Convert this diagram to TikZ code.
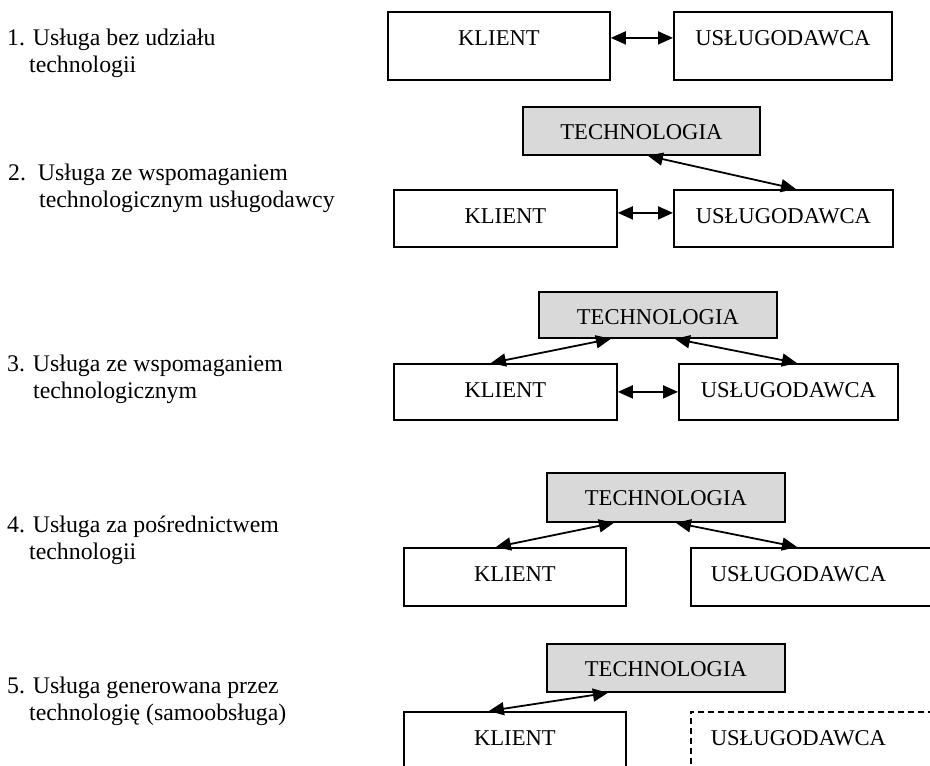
\documentclass[tikz,border=0pt]{standalone}
\usepackage{fontspec}
\setmainfont{Liberation Serif}
\usetikzlibrary{arrows.meta}
\definecolor{techgray}{RGB}{217,217,217}

\begin{document}
\begin{tikzpicture}[
        x=1pt, y=-1pt,
        box/.style={draw, line width=1.8pt, anchor=north west, inner xsep=0pt, inner ysep=0pt, text height=33.5pt, font=\fontsize{22.6}{27}\selectfont},
        tech/.style={box, fill=techgray, minimum width=238pt, text height=33pt, text depth=15pt},
        wide/.style={box, text width=220pt, align=left, inner xsep=20pt},
        itemtext/.style={anchor=base west, inner sep=0pt, font=\fontsize{23.8}{27}\selectfont},
        arrow/.style={<->, >={Triangle[length=15pt, width=13pt]}, line width=1.8pt}
    ]
        \clip (0,0) rectangle (930,766);

        \node[itemtext] (i1a) at (7,45) {1. Usługa bez udziału};
        \node[itemtext] (i1b) at (29,72) {technologii};
        \node[itemtext] (i2a) at (8,180) {2.\ \ Usługa ze wspomaganiem};
        \node[itemtext] (i2b) at (39,207) {technologicznym usługodawcy};
        \node[itemtext] (i3a) at (7,371) {3. Usługa ze wspomaganiem};
        \node[itemtext] (i3b) at (33,398) {technologicznym};
        \node[itemtext] (i4a) at (7,532) {4. Usługa za pośrednictwem};
        \node[itemtext] (i4b) at (29,559) {technologii};
        \node[itemtext] (i5a) at (7,693) {5. Usługa generowana przez};
        \node[itemtext] (i5b) at (29,720) {technologię (samoobsługa)};

        \node[box, minimum width=222pt, text depth=34.5pt] (k1) at (387,11) {KLIENT};
        \node[box, minimum width=218pt, text depth=34.5pt] (u1) at (673,11) {USŁUGODAWCA};

        \node[tech, minimum width=237pt] (t2) at (522,106) {TECHNOLOGIA};
        \node[box, minimum width=223pt, text depth=23.5pt] (k2) at (393,189) {KLIENT};
        \node[box, minimum width=219pt, text depth=23.5pt] (u2) at (673,189) {USŁUGODAWCA};

        \node[tech, text depth=13pt] (t3) at (538,291) {TECHNOLOGIA};
        \node[box, minimum width=223pt, text depth=22.5pt] (k3) at (393,363) {KLIENT};
        \node[box, minimum width=219pt, text depth=22.5pt] (u3) at (678,363) {USŁUGODAWCA};

        \node[tech, text depth=16pt] (t4) at (546,472) {TECHNOLOGIA};
        \node[box, minimum width=222pt, text depth=24.5pt] (k4) at (403,547) {KLIENT};
        \node[wide, text depth=24.5pt] (u4) at (690,547) {USŁUGODAWCA};

        \node[tech] (t5) at (546,643) {TECHNOLOGIA};
        \node[box, minimum width=222pt, text depth=40pt] (k5) at (403,711) {KLIENT};
        \node[wide, line width=1.6pt, dash pattern=on 6pt off 4pt, text depth=40pt] (u5) at (690,711) {USŁUGODAWCA};

        \draw[arrow] ([yshift=8pt]k1.east) -- ([yshift=8pt]u1.west);

        \draw[arrow] ([yshift=5.5pt]k2.east) -- ([yshift=5.5pt]u2.west);
        \draw[arrow] ([xshift=6.5pt]t2.south) -- ([xshift=12.5pt]u2.north);

        \draw[arrow] (k3.east) -- (u3.west);
        \draw[arrow] ([xshift=-47pt]t3.south) -- ([xshift=-14.5pt]k3.north);
        \draw[arrow] ([xshift=17pt]t3.south) -- ([xshift=8.5pt]u3.north);

        \draw[arrow] ([xshift=-52pt]t4.south) -- ([xshift=-19pt]k4.north);
        \draw[arrow] ([xshift=10pt]t4.south) -- ([xshift=107pt]u4.north west);

        \draw[arrow] ([xshift=-58pt]t5.south) -- ([xshift=-26pt]k5.north);
    \end{tikzpicture}
\end{document}
